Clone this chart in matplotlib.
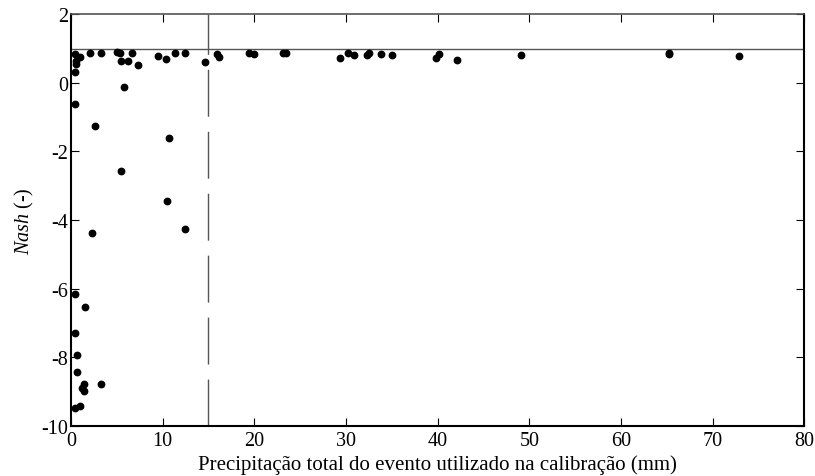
import matplotlib
matplotlib.use("Agg")
import matplotlib.pyplot as plt

# fonte tipo Times
plt.rcParams['font.family'] = ['Liberation Serif', 'DejaVu Serif']
plt.rcParams['mathtext.fontset'] = 'custom'
plt.rcParams['mathtext.it'] = 'Liberation Serif:italic'
plt.rcParams['mathtext.rm'] = 'Liberation Serif'
plt.rcParams['lines.scale_dashes'] = False
plt.rcParams['axes.unicode_minus'] = False   # hifen simples nos negativos

# precipitacao total (mm) e Nash de cada evento
precip = [0.44, 0.98, 0.51, 0.51, 0.44, 2.08, 3.28, 5.0, 5.35, 5.46,
          6.26, 6.67, 7.32, 9.47, 10.4, 11.33, 12.42, 14.57, 15.96, 16.17,
          19.38, 19.96, 23.1, 23.46, 29.3, 30.2, 30.85, 32.24, 32.5, 33.77,
          35.05, 39.78, 40.14, 42.1, 49.1, 65.24, 65.24, 72.84, 5.76,
          0.47, 2.66, 10.7, 5.47, 10.5, 12.43, 2.33,
          0.47, 1.57, 0.47, 0.69, 0.69, 3.28, 1.42, 1.17, 1.45, 0.47, 0.98]
nash = [0.83, 0.74, 0.63, 0.54, 0.31, 0.86, 0.86, 0.90, 0.86, 0.65,
        0.65, 0.86, 0.51, 0.78, 0.69, 0.86, 0.86, 0.60, 0.83, 0.74,
        0.86, 0.83, 0.86, 0.86, 0.73, 0.86, 0.82, 0.82, 0.86, 0.85,
        0.81, 0.73, 0.84, 0.68, 0.81, 0.88, 0.84, 0.77, -0.13,
        -0.61, -1.26, -1.60, -2.56, -3.43, -4.26, -4.38,
        -6.16, -6.54, -7.29, -7.92, -8.42, -8.78, -8.78, -8.90, -8.99, -9.48, -9.41]

limiar_precip = 15   # linha vertical tracejada
nash_ideal = 1       # linha horizontal

fig = plt.figure(figsize=(8.15, 4.77), dpi=100)
ax = fig.add_axes([0.0871, 0.105, 0.8998, 0.863])

ax.axhline(nash_ideal, color='#555555', lw=1.0, zorder=1)
ax.plot([limiar_precip, limiar_precip], [-10, 2], color='#555555', lw=1.0,
        dashes=(33.8, 10.8), zorder=1)
ax.plot(precip, nash, 'o', color='black', ms=4.6, zorder=3)

ax.set_xlim(0, 80)
ax.set_ylim(-10, 2)
ax.set_xticks(range(0, 81, 10))
ax.set_yticks(range(-10, 3, 2))

ax.tick_params(direction='in', top=True, right=True, length=6, width=0.8,
               labelsize=14.5)
ax.tick_params(axis='x', pad=4)
ax.tick_params(axis='y', pad=2)
for lado in ['left', 'bottom', 'right']:
    ax.spines[lado].set_linewidth(1.5)
ax.spines['top'].set_color('#555555')
ax.spines['top'].set_linewidth(1.2)

ax.set_xlabel('Precipitação total do evento utilizado na calibração (mm)', fontsize=15, labelpad=3)
ax.set_ylabel(r'$\mathit{Nash}$ (-)', fontsize=14.5, labelpad=4)

fig.savefig('out.png', dpi=100)
